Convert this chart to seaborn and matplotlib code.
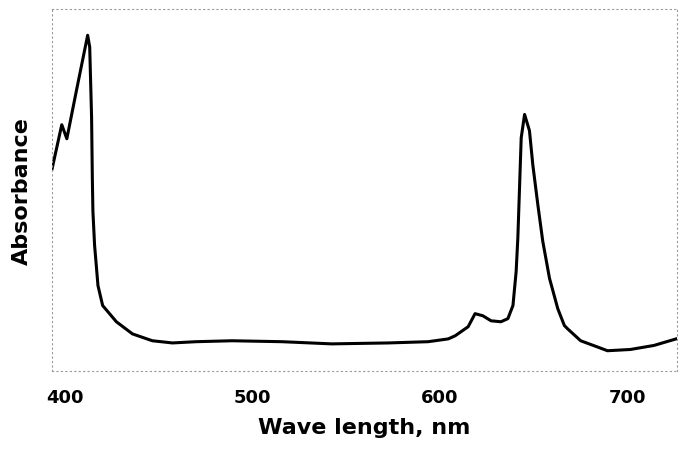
import numpy as np
import pandas as pd
import matplotlib
matplotlib.use("Agg")
import matplotlib.pyplot as plt
import seaborn as sns

# points (nm, arbitrary absorbance)
wavelength = [393.1, 398.4, 401.1, 406.6, 412.2, 413.3, 414.3, 414.7, 415.0, 415.9,
              416.8, 417.7, 420.2, 427.5, 436.1, 446.7, 457.4, 470.1, 489.2, 515.8,
              542.3, 572.6, 593.8, 604.5, 608.2, 615.1, 618.8, 623.0, 627.3, 632.6,
              636.3, 639.0, 640.7, 641.6, 642.5, 643.4, 645.2, 647.8, 649.6, 652.3,
              654.9, 658.5, 662.9, 666.4, 668.2, 675.1, 684.1, 689.4, 701.6, 714.2,
              727.7]
absorbance = [0.645, 0.790, 0.745, 0.911, 1.077, 1.039, 0.813, 0.619, 0.513, 0.403,
              0.339, 0.274, 0.210, 0.158, 0.119, 0.097, 0.090, 0.094, 0.097, 0.094,
              0.087, 0.090, 0.094, 0.103, 0.113, 0.142, 0.184, 0.177, 0.161, 0.158,
              0.168, 0.210, 0.319, 0.426, 0.587, 0.748, 0.823, 0.771, 0.661, 0.532,
              0.416, 0.297, 0.200, 0.146, 0.135, 0.097, 0.077, 0.065, 0.069, 0.082,
              0.106]
x_ticks = [400, 500, 600, 700]

df = pd.DataFrame({"wl": wavelength, "abs": absorbance})

sns.set_style("white")
fig = plt.figure(figsize=(6.82, 4.52), dpi=100)
ax = fig.add_axes([0.076, 0.177, 0.917, 0.80])

sns.lineplot(data=df, x="wl", y="abs", ax=ax, color="black", linewidth=2.2)

ax.set_xlim(393.1, 726.6)
ax.set_ylim(0, 1.16)
ax.set_xticks(x_ticks)
ax.set_xticklabels([str(t) for t in x_ticks], fontsize=13, fontweight="bold", color="black")
ax.set_yticks([])
ax.tick_params(axis="x", length=0, pad=12)

for s in ax.spines.values():
    s.set_linestyle((0, (1, 3)))
    s.set_color("#999999")
    s.set_linewidth(0.8)

ax.set_xlabel("Wave length, nm", fontsize=16, fontweight="bold", labelpad=8, color="black")
ax.set_ylabel("Absorbance", fontsize=16, fontweight="bold", labelpad=14, color="black")

fig.savefig("out.png", dpi=100)
